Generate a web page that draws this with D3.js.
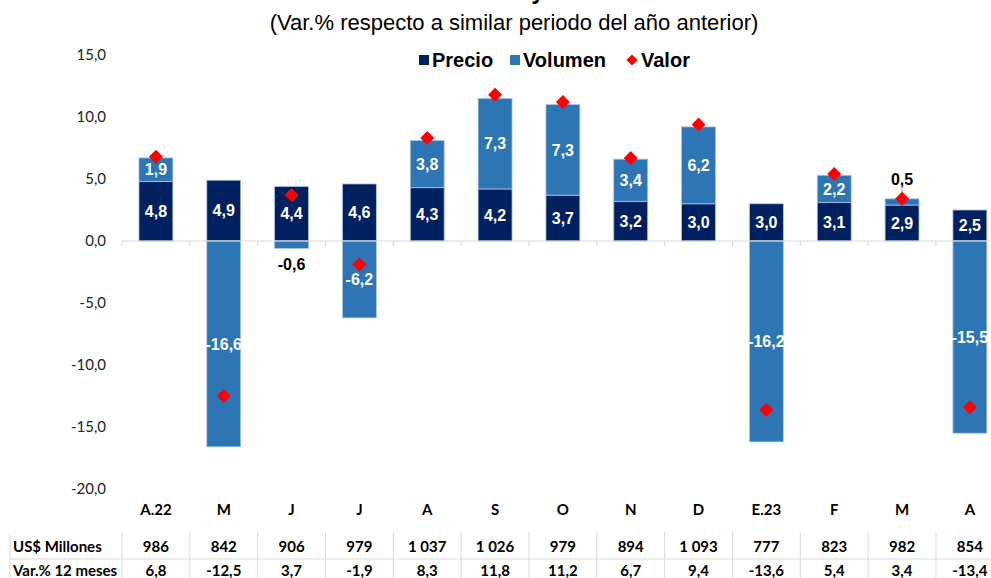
<!DOCTYPE html>
<html>
<head>
<meta charset="utf-8">
<script src="https://cdn.jsdelivr.net/npm/d3@7"></script>
<style>
body { margin: 0; background: #fff; }
svg { display: block; }
</style>
</head>
<body>
<div id="chart"></div>
<script>
var meses = ["A.22", "M", "J", "J", "A", "S", "O", "N", "D", "E.23", "F", "M", "A"];
var precio = [4.8, 4.9, 4.4, 4.6, 4.3, 4.2, 3.7, 3.2, 3.0, 3.0, 3.1, 2.9, 2.5];
var volumen = [1.9, -16.6, -0.6, -6.2, 3.8, 7.3, 7.3, 3.4, 6.2, -16.2, 2.2, 0.5, -15.5];
var valor = [6.8, -12.5, 3.7, -1.9, 8.3, 11.8, 11.2, 6.7, 9.4, -13.6, 5.4, 3.4, -13.4];
var millones = ["986", "842", "906", "979", "1 037", "1 026", "979", "894", "1 093", "777", "823", "982", "854"];
var yTicks = [15, 10, 5, 0, -5, -10, -15, -20];

var width = 991, height = 578;
var fmt = function(v) { return d3.format(".1f")(v).replace(".", ",").replace("\u2212", "-"); };

var svg = d3.select("#chart").append("svg")
	.attr("width", width)
	.attr("height", height);

var x = d3.scaleBand()
	.domain(d3.range(meses.length))
	.range([122, 122 + 67.83 * meses.length])
	.paddingInner(0.5)
	.paddingOuter(0.25);
var step = x.step();

var y = d3.scaleLinear()
	.domain([-20, 15])
	.range([489, 55]);

// titulo (cortado arriba)
svg.append("text")
	.attr("x", 538)
	.attr("y", -1)
	.attr("text-anchor", "middle")
	.style("font", "bold 24px 'Liberation Sans', Arial, sans-serif")
	.text("y");

svg.append("text")
	.attr("x", 514)
	.attr("y", 30)
	.attr("text-anchor", "middle")
	.style("font", "22px 'Liberation Sans', Arial, sans-serif")
	.attr("fill", "#000")
	.text("(Var.% respecto a similar periodo del año anterior)");

// eje y
svg.append("g")
	.selectAll("text")
	.data(yTicks)
	.enter()
	.append("text")
	.attr("x", 106)
	.attr("y", function(d) { return y(d); })
	.attr("dy", "0.35em")
	.attr("text-anchor", "end")
	.style("font", "15px Lato, 'Open Sans', sans-serif")
	.attr("fill", "#222")
	.text(fmt);

// barras
var bars = svg.append("g");
bars.selectAll(".precio")
	.data(precio)
	.enter()
	.append("rect")
	.attr("x", function(d, i) { return x(i); })
	.attr("width", x.bandwidth())
	.attr("y", function(d) { return y(Math.max(0, d)); })
	.attr("height", function(d) { return Math.abs(y(d) - y(0)); })
	.attr("fill", "#002060")
	.attr("stroke", "#a9c4e4")
	.attr("stroke-width", 0.8);

function volTop(i) {
	var v = volumen[i];
	return v >= 0 ? y(precio[i] + v) : y(0);
}
function volBottom(i) {
	var v = volumen[i];
	return v >= 0 ? y(precio[i]) : y(v);
}

bars.selectAll(".volumen")
	.data(volumen)
	.enter()
	.append("rect")
	.attr("x", function(d, i) { return x(i); })
	.attr("width", x.bandwidth())
	.attr("y", function(d, i) { return volTop(i); })
	.attr("height", function(d, i) { return volBottom(i) - volTop(i); })
	.attr("fill", "#2e75b6")
	.attr("stroke", "#a9c4e4")
	.attr("stroke-width", 0.8);

// linea cero
svg.append("line")
	.attr("x1", 122).attr("x2", width)
	.attr("y1", y(0)).attr("y2", y(0))
	.attr("stroke", "#d9d9d9")
	.attr("stroke-width", 1.2);
svg.append("g")
	.selectAll("line")
	.data(d3.range(meses.length + 1))
	.enter()
	.append("line")
	.attr("x1", function(i) { return 122 + i * step; })
	.attr("x2", function(i) { return 122 + i * step; })
	.attr("y1", y(0))
	.attr("y2", y(0) + 5)
	.attr("stroke", "#d9d9d9");

var labelFont = "bold 16px 'Liberation Sans', Arial, sans-serif";

// etiquetas precio
svg.append("g")
	.selectAll("text")
	.data(precio)
	.enter()
	.append("text")
	.attr("x", function(d, i) { return x(i) + x.bandwidth() / 2; })
	.attr("y", function(d) { return (y(d) + y(0)) / 2; })
	.attr("dy", "0.36em")
	.attr("text-anchor", "middle")
	.style("font", labelFont)
	.attr("fill", "#fff")
	.text(fmt);

// etiquetas volumen
svg.append("g")
	.selectAll("text")
	.data(volumen)
	.enter()
	.append("text")
	.attr("x", function(d, i) { return x(i) + x.bandwidth() / 2; })
	.attr("y", function(d, i) {
		if (Math.abs(d) < 1) {
			return d < 0 ? volBottom(i) + 16 : volTop(i) - 20;
		}
		return (volTop(i) + volBottom(i)) / 2;
	})
	.attr("dy", "0.36em")
	.attr("text-anchor", "middle")
	.style("font", labelFont)
	.attr("fill", function(d) { return Math.abs(d) < 1 ? "#000" : "#fff"; })
	.text(fmt);

// linea guia para etiquetas pequeñas
svg.append("g")
	.selectAll("line")
	.data(volumen.map(function(d, i) { return i; }).filter(function(i) { return volumen[i] > 0 && volumen[i] < 1; }))
	.enter()
	.append("line")
	.attr("x1", function(i) { return x(i) + x.bandwidth() / 2; })
	.attr("x2", function(i) { return x(i) + x.bandwidth() / 2; })
	.attr("y1", function(i) { return volTop(i) - 10; })
	.attr("y2", function(i) { return volTop(i) - 1; })
	.attr("stroke", "#999")
	.attr("stroke-width", 1);

// valor
svg.append("g")
	.selectAll("path")
	.data(valor)
	.enter()
	.append("path")
	.attr("d", d3.symbol().type(d3.symbolDiamond2).size(125))
	.attr("transform", function(d, i) {
		return "translate(" + (x(i) + x.bandwidth() / 2) + "," + y(d) + ")";
	})
	.attr("fill", "#ff0000");

// leyenda
var legend = svg.append("g").style("font", "bold 20px 'Liberation Sans', Arial, sans-serif");
legend.append("rect").attr("x", 419).attr("y", 55).attr("width", 10).attr("height", 10).attr("fill", "#002060");
legend.append("text").attr("x", 432).attr("y", 67).text("Precio");
legend.append("rect").attr("x", 510).attr("y", 55).attr("width", 10).attr("height", 10).attr("fill", "#2e75b6");
legend.append("text").attr("x", 523).attr("y", 67).text("Volumen");
legend.append("path")
	.attr("d", d3.symbol().type(d3.symbolDiamond2).size(80))
	.attr("transform", "translate(632,60)")
	.attr("fill", "#ff0000");
legend.append("text").attr("x", 641).attr("y", 67).text("Valor");

// meses
var tableFont = "bold 15px Lato, 'Open Sans', sans-serif";
svg.append("g")
	.selectAll("text")
	.data(meses)
	.enter()
	.append("text")
	.attr("x", function(d, i) { return x(i) + x.bandwidth() / 2; })
	.attr("y", 515)
	.attr("text-anchor", "middle")
	.style("font", tableFont)
	.attr("fill", "#000")
	.text(function(d) { return d; });

// tabla
var table = svg.append("g");
table.selectAll(".vline")
	.data(d3.range(meses.length + 1))
	.enter()
	.append("line")
	.attr("x1", function(i) { return 122 + i * step; })
	.attr("x2", function(i) { return 122 + i * step; })
	.attr("y1", 532)
	.attr("y2", height)
	.attr("stroke", "#d9d9d9");
table.append("line")
	.attr("x1", 10).attr("x2", 10)
	.attr("y1", 535).attr("y2", height)
	.attr("stroke", "#d9d9d9");
table.append("line")
	.attr("x1", 10).attr("x2", width)
	.attr("y1", 559).attr("y2", 559)
	.attr("stroke", "#d9d9d9");

table.append("text").attr("x", 13).attr("y", 552).style("font", tableFont).text("US$ Millones");
table.append("text").attr("x", 13).attr("y", 576).style("font", tableFont).text("Var.% 12 meses");

table.selectAll(".mill")
	.data(millones)
	.enter()
	.append("text")
	.attr("x", function(d, i) { return x(i) + x.bandwidth() / 2; })
	.attr("y", 552)
	.attr("text-anchor", "middle")
	.style("font", tableFont)
	.text(function(d) { return d; });
table.selectAll(".var")
	.data(valor)
	.enter()
	.append("text")
	.attr("x", function(d, i) { return x(i) + x.bandwidth() / 2; })
	.attr("y", 576)
	.attr("text-anchor", "middle")
	.style("font", tableFont)
	.text(fmt);
</script>
</body>
</html>
